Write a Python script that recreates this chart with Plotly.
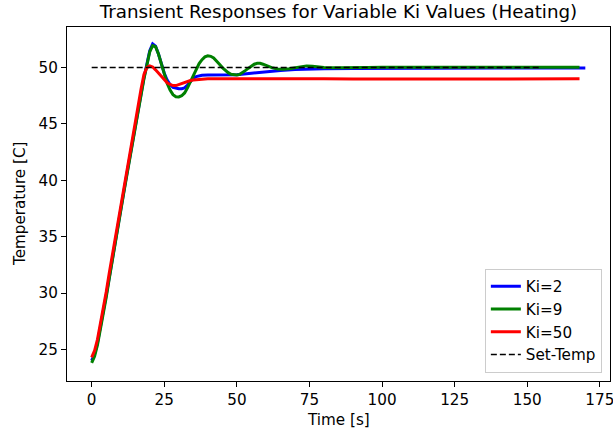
import plotly.graph_objects as go

# ---- data ----
t_rise = [0, 1, 2, 3, 4, 5, 6, 7, 8, 9, 10, 11, 12, 13, 14, 15, 16, 17, 18]

ki2_time = t_rise + [19, 20, 21, 22, 23, 24, 25, 26, 27, 28, 29, 30, 31, 32, 33, 34, 35, 36, 37, 38, 40,
                     45, 50, 55, 60, 65, 70, 75, 80, 90, 100, 110, 120, 130, 140, 150, 160, 170]
ki2_temp = [24.0, 24.6, 25.6, 26.9, 28.3, 29.8, 31.3, 32.9, 34.4, 35.9, 37.4, 38.9, 40.4, 41.9, 43.4,
            44.9, 46.4, 47.8, 49.1,
            50.3, 51.5, 52.1, 51.9, 51.2, 50.3, 49.5, 48.9, 48.5, 48.25, 48.15, 48.12, 48.12, 48.2, 48.45,
            48.8, 49.05, 49.2, 49.28, 49.32, 49.35,
            49.35, 49.37, 49.5, 49.65, 49.75, 49.82, 49.87, 49.9, 49.93, 49.95, 49.96, 49.96, 49.97,
            49.97, 49.97, 49.98, 49.97]

ki9_time = t_rise + [19, 20, 21, 22, 23, 24, 25, 26, 27, 28, 29, 30, 31, 32, 33, 34, 35, 36, 37, 38, 39,
                     40, 41, 42, 43, 44, 45, 46, 47, 48, 49, 50, 51, 52, 53, 54, 55, 56, 57, 58, 59,
                     60, 62, 64, 66, 68, 70, 72, 74, 76, 78, 80, 85, 90, 95, 100, 110, 120, 130, 140,
                     150, 160, 168]
ki9_temp = [23.8, 24.4, 25.4, 26.7, 28.1, 29.6, 31.2, 32.8, 34.3, 35.8, 37.3, 38.8, 40.3, 41.8, 43.3,
            44.8, 46.3, 47.7, 49.0,
            50.2, 51.4, 51.95, 51.85, 51.2, 50.3, 49.4, 48.6, 48.0, 47.6, 47.42, 47.4, 47.5, 47.75,
            48.2, 48.75, 49.3, 49.85, 50.35, 50.7, 50.95,
            51.05, 51.0, 50.85, 50.6, 50.3, 50.0, 49.75, 49.55, 49.4, 49.35, 49.35, 49.4, 49.55,
            49.75, 49.95, 50.15, 50.3, 50.38, 50.38, 50.3,
            50.2, 50.0, 49.88, 49.85, 49.9, 50.0, 50.1, 50.15, 50.12, 50.05, 50.0, 49.98, 50.02,
            50.0, 50.03, 50.02, 50.04, 50.02, 50.03, 50.04, 50.03, 50.04]

ki50_time = t_rise + [19, 20, 21, 22, 23, 24, 25, 26, 27, 28, 29, 30, 31, 32, 33, 34, 35, 37, 40,
                      50, 60, 70, 80, 90, 100, 110, 120, 130, 140, 150, 160, 168]
ki50_temp = [24.3, 24.9, 25.9, 27.2, 28.6, 30.1, 31.7, 33.2, 34.8, 36.3, 37.8, 39.3, 40.8, 42.3, 43.8,
             45.3, 46.8, 48.1, 49.4,
             50.0, 50.15, 50.05, 49.8, 49.5, 49.2, 48.9, 48.65, 48.5, 48.4, 48.4, 48.5, 48.6, 48.7,
             48.8, 48.85, 48.9, 48.95, 49.0,
             49.0, 48.98, 49.0, 49.0, 48.99, 49.0, 49.0, 49.0, 49.01, 49.0, 49.0, 49.01, 49.0]

set_time = [0, 154.5]
set_temp = [50, 50]

series_names = ["Ki=2", "Ki=9", "Ki=50", "Set-Temp"]
tick_x = [0, 25, 50, 75, 100, 125, 150, 175]
tick_y = [25, 30, 35, 40, 45, 50]

FONT = "DejaVu Sans"
FS = 15.2

fig = go.Figure()
fig.add_trace(go.Scatter(x=ki2_time, y=ki2_temp, mode="lines", name=series_names[0],
                         legendgroup="g1", line=dict(color="#0000ff", width=3)))
fig.add_trace(go.Scatter(x=ki9_time, y=ki9_temp, mode="lines", name=series_names[1],
                         legendgroup="g2", line=dict(color="#008000", width=3)))
fig.add_trace(go.Scatter(x=ki50_time, y=ki50_temp, mode="lines", name=series_names[2],
                         legendgroup="g3", line=dict(color="#ff0000", width=3)))
fig.add_trace(go.Scatter(x=set_time, y=set_temp, mode="lines", name=series_names[3],
                         legendgroup="g4", line=dict(color="black", width=1.5, dash="6px,3px")))

axis_common = dict(showline=True, linecolor="black", linewidth=1.1, mirror=True,
                   ticks="outside", ticklen=5, tickwidth=1.1, tickcolor="black",
                   showgrid=False, zeroline=False, automargin=False,
                   ticklabeloverflow="allow",
                   tickfont=dict(family=FONT, size=FS, color="black"))

fig.update_layout(
    width=613, height=436,
    margin=dict(l=67, r=3, t=27, b=55, autoexpand=False),
    paper_bgcolor="white", plot_bgcolor="white",
    title=dict(text="Transient Responses for Variable Ki Values (Heating)",
               font=dict(family=FONT, size=18.3, color="black"),
               x=0.5, xref="paper", y=1 - 12 / 436, yref="container",
               xanchor="center", yanchor="middle"),
    xaxis=dict(range=[-8.5, 178.5], tickvals=tick_x, **axis_common),
    yaxis=dict(range=[22.2, 53.6], tickvals=tick_y, **axis_common),
    legend=dict(x=0.985, y=0.023, xanchor="right", yanchor="bottom",
                traceorder="grouped", tracegroupgap=0,
                bgcolor="rgba(255,255,255,0.8)", bordercolor="#cccccc", borderwidth=1,
                font=dict(family=FONT, size=FS, color="black")),
    showlegend=True,
    annotations=[
        dict(text="Time [s]", xref="paper", yref="paper", x=0.5, y=-(420 - 381) / 354,
             xanchor="center", yanchor="middle", showarrow=False,
             font=dict(family=FONT, size=FS, color="black")),
        dict(text="Temperature [C]", xref="paper", yref="paper", x=-(67 - 20) / 543, y=0.5,
             xanchor="center", yanchor="middle", showarrow=False, textangle=-90,
             font=dict(family=FONT, size=FS, color="black")),
    ],
)

fig.write_html("out.html", config={"displayModeBar": False},
               post_script="document.body.style.margin='0';document.body.style.overflow='hidden';")
